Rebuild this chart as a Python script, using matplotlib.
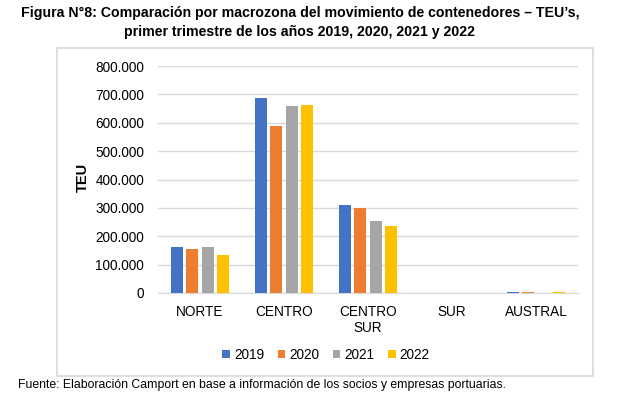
import matplotlib
matplotlib.use("Agg")
import matplotlib.pyplot as plt
import numpy as np
from matplotlib.patches import Rectangle
from matplotlib import font_manager

categories = ["NORTE", "CENTRO", "CENTRO\nSUR", "SUR", "AUSTRAL"]
years = ["2019", "2020", "2021", "2022"]
v2019 = [163000, 687000, 309000, 0, 5000]
v2020 = [154000, 588000, 299000, 0, 4500]
v2021 = [163000, 658000, 253000, 0, 0]
v2022 = [134000, 662000, 236000, 0, 2500]
yticks = [0, 100000, 200000, 300000, 400000, 500000, 600000, 700000, 800000]
ytick_labels = ["0", "100.000", "200.000", "300.000", "400.000", "500.000",
                "600.000", "700.000", "800.000"]
colors = ["#4472C4", "#ED7D31", "#A5A5A5", "#FFC000"]

names = {f.name for f in font_manager.fontManager.ttflist}
base = "Liberation Sans" if "Liberation Sans" in names else "DejaVu Sans"
narrow = "Liberation Sans Narrow" if "Liberation Sans Narrow" in names else base
plt.rcParams["font.family"] = [base, "DejaVu Sans"]

W, H = 633, 397
fig = plt.figure(figsize=(W / 100, H / 100), dpi=100)

# chart frame
fig.patches.append(Rectangle((57 / W, 1 - 376 / H), (593 - 57) / W, (376 - 48) / H,
                             transform=fig.transFigure, fill=False,
                             edgecolor="#d9d9d9", linewidth=1.2))

ax = fig.add_axes([158 / W, 1 - 293 / H, (578 - 158) / W, (293 - 66) / H])
x = np.arange(len(categories))
series = [v2019, v2020, v2021, v2022]
pitch = 0.182
width = 0.145
for i, (vals, c, lab) in enumerate(zip(series, colors, years)):
    ax.bar(x + (i - 1.5) * pitch, vals, width, color=c, label=lab, zorder=3)

ax.set_xlim(-0.5, len(categories) - 0.5)
ax.set_ylim(0, 800000)
ax.set_yticks(yticks)
ax.set_yticklabels(ytick_labels, fontsize=9.8)
ax.set_xticks(x)
ax.set_xticklabels(categories, fontsize=9.8, linespacing=1.1)
ax.tick_params(axis="both", length=0, colors="black")
ax.tick_params(axis="y", pad=10)
ax.tick_params(axis="x", pad=9)
ax.grid(axis="y", color="#d9d9d9", linewidth=1, zorder=0)
for s in ["top", "right", "left"]:
    ax.spines[s].set_visible(False)
ax.spines["bottom"].set_color("#d9d9d9")
ax.spines["bottom"].set_zorder(0)
ax.set_ylabel("TEU", fontsize=10.5, fontweight="bold")
ax.yaxis.set_label_coords((90 - 158) / (578 - 158), (293 - 177) / (293 - 66))

fig.legend(loc="center", bbox_to_anchor=(326 / W, 1 - 355 / H), ncol=4,
           frameon=False, fontsize=9.8, handlelength=0.55, handleheight=0.55,
           handletextpad=0.3, columnspacing=1.0)

tfam = [narrow, "DejaVu Sans"]
fig.text(300 / W, 1 - 13 / H, "Figura N°8: Comparación por macrozona del movimiento de contenedores – TEU’s,",
         ha="center", va="center", fontsize=10.2, fontweight="bold", family=tfam)
fig.text(300 / W, 1 - 32 / H, "primer trimestre de los años 2019, 2020, 2021 y 2022",
         ha="center", va="center", fontsize=10.2, fontweight="bold", family=tfam)
fig.text(18 / W, 1 - 385 / H,
         "Fuente: Elaboración Camport en base a información de los socios y empresas portuarias.",
         ha="left", va="center", fontsize=8.85)

fig.savefig("out.png", dpi=100)
